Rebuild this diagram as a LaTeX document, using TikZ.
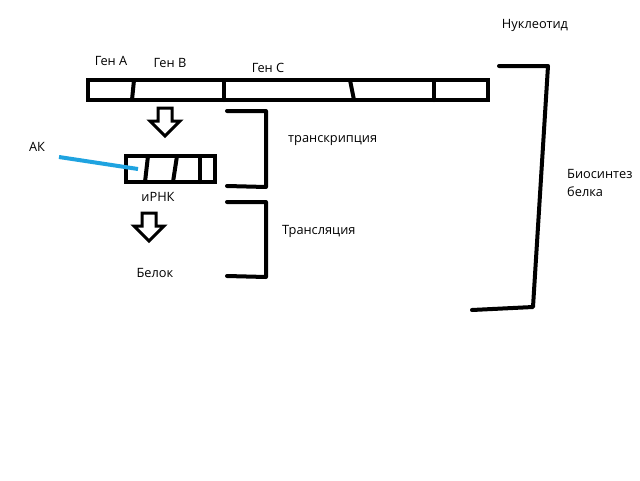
\documentclass[tikz,border=0pt]{standalone}
\usepackage{fontspec}
\setmainfont{Open Sans}
\usetikzlibrary{positioning}
\definecolor{akblue}{HTML}{1FA3E0}

\newcommand{\hollowarrow}[2]{%
  \draw[hollow] (#1-7,#2) -- ++(14,0) -- ++(0,13) -- ++(8,0) -- ++(-15,15)
    -- ++(-15,-15) -- ++(8,0) -- cycle;}

\begin{document}
\begin{tikzpicture}[x=1pt, y=-1pt, font=\fontsize{12.8}{18}\selectfont,
  stroke/.style={line width=4pt, line cap=round, line join=round},
  strand/.style={draw, line width=4pt, inner sep=0pt, outer sep=0pt},
  hollow/.style={line width=3pt, line join=miter, fill=white},
  lbl/.style={inner sep=0pt},
  akline/.style={draw=akblue, line width=4pt}]
\useasboundingbox (0,0) rectangle (640,480);

% DNA strand with genes
\node[strand, minimum width=400pt, minimum height=20pt] (dna) at (288,90) {};
\draw[stroke] (134,80) -- (132,100);
\draw[stroke] (224,80) -- (224,100);
\draw[stroke] (350,80) -- (354,100);
\draw[stroke] (434,80) -- (434,100);
\node[lbl] (genA) at (111,61) {Ген А};
\node[lbl] (genB) at (170,63) {Ген В};
\node[lbl] (genC) at (268,68) {Ген С};
\node[lbl] (nucl) at (535,25) {Нуклеотид};

% mRNA
\node[strand, minimum width=89pt, minimum height=26pt] (mrna) at (170.5,169) {};
\draw[stroke] (148,156) -- (145,182);
\draw[stroke] (177,156) -- (173,182);
\draw[stroke] (200,156) -- (200,182);
\node[lbl] (irnk) at (158,197) {иРНК};
\node[lbl] (protein) at (155,273) {Белок};
\node[lbl] (ak) at (37,147) {АК};
\coordinate (akstart) at (59,157);
\coordinate (akend) at (138,169);
\draw[akline] (akstart) -- (akend);

% arrows
\hollowarrow{165}{108}
\hollowarrow{149}{213}

% brackets
\draw[stroke] (227,111) -- (266,111) -- (266,187) -- (227,186);
\draw[stroke] (227,202) -- (266,202) -- (266,277) -- (227,276);
\node[lbl, anchor=west] (transc) at (288,141) {транскрипция};
\node[lbl, anchor=west] (transl) at (282,231) {Трансляция};
\draw[stroke] (499,66) -- (548,66) -- (533,307) -- (472,310);
\node[lbl, anchor=west, align=left] (bios) at (567,183) {Биосинтез\\белка};
\end{tikzpicture}
\end{document}
